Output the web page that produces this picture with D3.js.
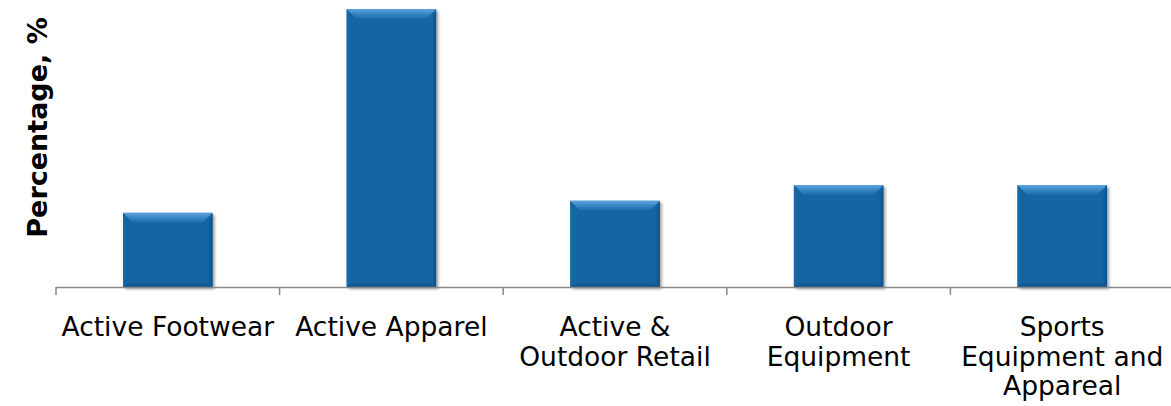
<!DOCTYPE html>
<html>
<head>
<meta charset="utf-8">
<script src="https://cdn.jsdelivr.net/npm/d3@7"></script>
<style>
  html, body { margin: 0; padding: 0; background: #fff; }
  svg { display: block; }
</style>
</head>
<body>
<div id="chart"></div>
<script>
// ── Data ────────────────────────────────────────────────────
const categories = [
  ['Active Footwear'],
  ['Active Apparel'],
  ['Active &', 'Outdoor Retail'],
  ['Outdoor', 'Equipment'],
  ['Sports', 'Equipment and', 'Appareal']
];
const values = [4.0, 15.0, 4.65, 5.5, 5.5];
const yMax = 15.0;

const width = 1171, height = 406;
const margin = { top: 9, right: -3, bottom: 119, left: 56 };
const innerW = width - margin.left - margin.right;
const innerH = height - margin.top - margin.bottom;

const svg = d3.select('#chart')
  .append('svg')
  .attr('width', width)
  .attr('height', height);

const defs = svg.append('defs');

// bevel gradients
const gTop = defs.append('linearGradient').attr('id', 'bevTop')
  .attr('x1', 0).attr('y1', 0).attr('x2', 0).attr('y2', 1);
gTop.append('stop').attr('offset', '0%').attr('stop-color', '#5ea3de');
gTop.append('stop').attr('offset', '45%').attr('stop-color', '#3b88c8');
gTop.append('stop').attr('offset', '100%').attr('stop-color', '#1a69a8');

const gLeft = defs.append('linearGradient').attr('id', 'bevLeft')
  .attr('x1', 0).attr('y1', 0).attr('x2', 1).attr('y2', 0);
gLeft.append('stop').attr('offset', '0%').attr('stop-color', '#1a6aa9');
gLeft.append('stop').attr('offset', '100%').attr('stop-color', '#1565a3');

const gRight = defs.append('linearGradient').attr('id', 'bevRight')
  .attr('x1', 0).attr('y1', 0).attr('x2', 1).attr('y2', 0);
gRight.append('stop').attr('offset', '0%').attr('stop-color', '#1361a0');
gRight.append('stop').attr('offset', '100%').attr('stop-color', '#0e5087');

const gBot = defs.append('linearGradient').attr('id', 'bevBot')
  .attr('x1', 0).attr('y1', 0).attr('x2', 0).attr('y2', 1);
gBot.append('stop').attr('offset', '0%').attr('stop-color', '#1461a0');
gBot.append('stop').attr('offset', '100%').attr('stop-color', '#0f5189');

const shadow = defs.append('filter').attr('id', 'shadow')
  .attr('x', '-10%').attr('y', '-10%').attr('width', '130%').attr('height', '130%');
shadow.append('feGaussianBlur').attr('in', 'SourceAlpha').attr('stdDeviation', 1.5);
shadow.append('feOffset').attr('dx', 2).attr('dy', 2).attr('result', 'off');
shadow.append('feComponentTransfer').append('feFuncA').attr('type', 'linear').attr('slope', 0.4);
const merge = shadow.append('feMerge');
merge.append('feMergeNode');
merge.append('feMergeNode').attr('in', 'SourceGraphic');

const g = svg.append('g')
  .attr('transform', `translate(${margin.left},${margin.top})`);

// ── Scales ──────────────────────────────────────────────────
const x = d3.scaleBand()
  .domain(d3.range(categories.length))
  .range([0, innerW])
  .paddingInner(0.6)
  .paddingOuter(0.3);

const xb = d3.scaleBand()
  .domain(d3.range(categories.length))
  .range([0, innerW]);

const y = d3.scaleLinear()
  .domain([0, yMax])
  .range([innerH, 0]);

// ── Bars ────────────────────────────────────────────────────
const bev = 10, side = 10, sideR = 4;
const bars = g.selectAll('.bar')
  .data(values)
  .join('g')
  .attr('class', 'bar')
  .attr('transform', (d, i) => `translate(${x(i)},${y(d)})`);

bars.append('rect')
  .attr('width', x.bandwidth())
  .attr('height', d => innerH - y(d))
  .attr('fill', '#1565a3')
  .attr('filter', 'url(#shadow)');

// left bevel
bars.append('path')
  .attr('fill', 'url(#bevLeft)')
  .attr('d', d => {
    const h = innerH - y(d);
    return `M0,0 L${sideR},${bev} L${sideR},${h - sideR} L0,${h} Z`;
  });

// right bevel
bars.append('path')
  .attr('fill', 'url(#bevRight)')
  .attr('d', d => {
    const w = x.bandwidth(), h = innerH - y(d);
    return `M${w},0 L${w},${h} L${w - sideR},${h - sideR} L${w - sideR},${bev} Z`;
  });

// bottom bevel
bars.append('path')
  .attr('fill', 'url(#bevBot)')
  .attr('d', d => {
    const w = x.bandwidth(), h = innerH - y(d);
    return `M0,${h} L${sideR},${h - sideR} L${w - sideR},${h - sideR} L${w},${h} Z`;
  });

// top bevel
bars.append('path')
  .attr('fill', 'url(#bevTop)')
  .attr('d', () => {
    const w = x.bandwidth();
    return `M0,0 L${w},0 L${w - side},${bev} L${side},${bev} Z`;
  });

// ── X axis ──────────────────────────────────────────────────
const axis = g.append('g')
  .attr('transform', `translate(0,${innerH})`);

axis.append('line')
  .attr('x1', 0).attr('x2', innerW)
  .attr('y1', 0.5).attr('y2', 0.5)
  .attr('stroke', '#898989')
  .attr('stroke-width', 1.5);

axis.selectAll('.tick')
  .data(d3.range(categories.length + 1))
  .join('line')
  .attr('class', 'tick')
  .attr('x1', i => i < categories.length ? xb(i) : innerW)
  .attr('x2', i => i < categories.length ? xb(i) : innerW)
  .attr('y1', 0).attr('y2', 8)
  .attr('stroke', '#898989')
  .attr('stroke-width', 1.5);

const labels = axis.selectAll('.label')
  .data(categories)
  .join('text')
  .attr('class', 'label')
  .attr('x', (d, i) => xb(i) + xb.bandwidth() / 2)
  .attr('y', 49)
  .attr('text-anchor', 'middle')
  .attr('fill', '#000')
  .attr('font-size', '26.5px')
  .attr('font-family', 'DejaVu Sans, Verdana, sans-serif');

labels.selectAll('tspan')
  .data(d => d)
  .join('tspan')
  .attr('x', function () { return this.parentNode.getAttribute('x'); })
  .attr('dy', (d, i) => i === 0 ? 0 : 29.5)
  .text(d => d);

// ── Y axis label ────────────────────────────────────────────
svg.append('text')
  .attr('transform', 'rotate(-90)')
  .attr('x', -127.5)
  .attr('y', 47)
  .attr('text-anchor', 'middle')
  .attr('fill', '#000')
  .attr('font-size', '27px')
  .attr('font-weight', 'bold')
  .attr('font-family', 'DejaVu Sans, Verdana, sans-serif')
  .text('Percentage, %');
</script>
</body>
</html>
